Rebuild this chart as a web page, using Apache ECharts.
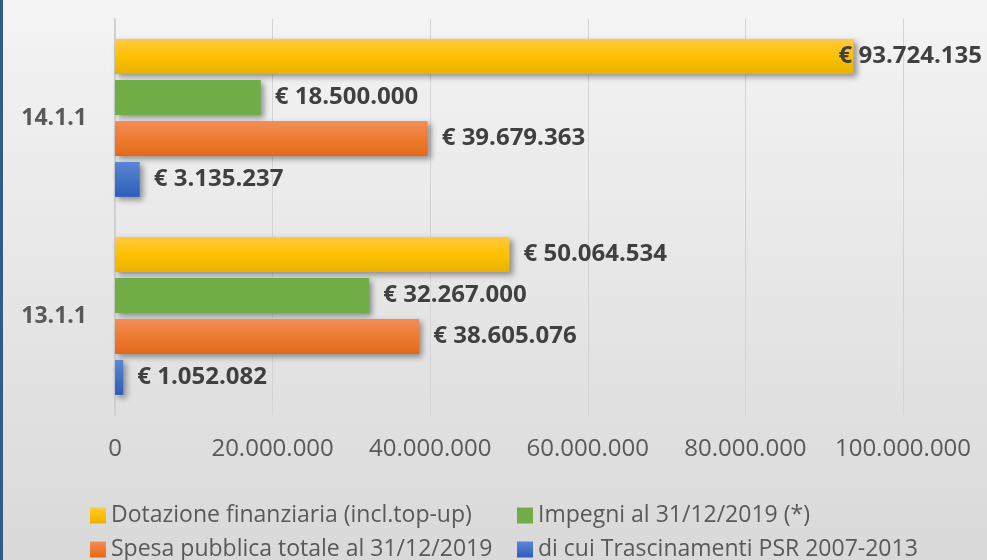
<!DOCTYPE html>
<html>
<head>
<meta charset="utf-8">
<script src="https://cdn.jsdelivr.net/npm/echarts@6/dist/echarts.min.js"></script>
<style>
    html, body { margin: 0; padding: 0; }
    .wrap { position: relative; width: 987px; height: 560px; }
    .charts { width: 987px; height: 560px; }
    .stripe { position: absolute; left: 0; top: 0; width: 3px; height: 560px; background: #325c84; }
</style>
</head>
<body>
<div class="wrap">
    <div class="charts" id="myEchart"></div>
    <div class="stripe"></div>
</div>
<script>
// categorie (dall'alto verso il basso)
var categories = ["14.1.1", "13.1.1"];
var seriesNames = [
    "Dotazione finanziaria (incl.top-up)",
    "Impegni al 31/12/2019 (*)",
    "Spesa pubblica totale al 31/12/2019",
    "di cui Trascinamenti PSR 2007-2013"
];
var dotazione = [93724135, 50064534];
var impegni = [18500000, 32267000];
var spesa = [39679363, 38605076];
var trascinamenti = [3135237, 1052082];
var xTicks = [0, 20000000, 40000000, 60000000, 80000000, 100000000];

function fmt(v) {
    return String(v).replace(/\B(?=(\d{3})+(?!\d))/g, ".");
}

function grad(c1, c2, c3) {
    return new echarts.graphic.LinearGradient(0, 0, 0, 1, [
        { offset: 0, color: c1 },
        { offset: 0.5, color: c2 },
        { offset: 1, color: c3 }
    ]);
}

var colors = [
    grad("#ffc942", "#ffc000", "#e6b200"),
    grad("#70ad47", "#70ad47", "#70ad47"),
    grad("#f38d56", "#ee7b30", "#e2691b"),
    grad("#5b86d6", "#4472c4", "#2d5cbf")
];

var barStyle = {
    shadowColor: "rgba(0,0,0,0.4)",
    shadowBlur: 6,
    shadowOffsetX: 3,
    shadowOffsetY: 3
};

var allData = [dotazione, impegni, spesa, trascinamenti];

// legenda a due colonne: una legenda per voce
var legendPos = [
    { left: 85, top: 499 },
    { left: 512, top: 499 },
    { left: 85, top: 533 },
    { left: 512, top: 533 }
];

var chart = echarts.init(document.getElementById("myEchart"));
chart.setOption({
    backgroundColor: new echarts.graphic.LinearGradient(0, 0, 0, 1, [
        { offset: 0, color: "#f4f4f4" },
        { offset: 1, color: "#d9d9d9" }
    ]),
    textStyle: { fontFamily: "Open Sans" },
    grid: {
        top: 19,
        bottom: 145,
        left: 115,
        right: 84
    },
    legend: seriesNames.map(function (name, i) {
        return {
            left: legendPos[i].left,
            top: legendPos[i].top,
            itemWidth: 16,
            itemHeight: 16,
            itemGap: 6,
            icon: "rect",
            data: [name],
            itemStyle: { shadowBlur: 0, shadowOffsetX: 0, shadowOffsetY: 0 },
            textStyle: { color: "#595959", fontSize: 23, fontFamily: "Open Sans" }
        };
    }),
    xAxis: {
        type: "value",
        min: xTicks[0],
        max: xTicks[xTicks.length - 1],
        interval: xTicks[1] - xTicks[0],
        axisLine: { show: false },
        axisTick: { show: false },
        splitLine: { show: true, lineStyle: { color: "#d4d4d4", width: 1 } },
        axisLabel: {
            margin: 22,
            color: "#595959",
            fontSize: 24,
            formatter: function (v) { return fmt(v); }
        }
    },
    yAxis: {
        type: "category",
        inverse: true,
        data: categories,
        axisTick: { show: false },
        axisLine: { show: true, lineStyle: { color: "#d0d0d0", width: 2 } },
        axisLabel: {
            margin: 28,
            color: "#595959",
            fontSize: 23,
            fontWeight: "bold"
        }
    },
    series: seriesNames.map(function (name, i) {
        return {
            name: name,
            type: "bar",
            barWidth: 35,
            barGap: "17%",
            itemStyle: Object.assign({ color: colors[i] }, barStyle),
            label: {
                show: true,
                position: "right",
                distance: 14,
                color: "#404040",
                fontSize: 24,
                fontWeight: "bold",
                formatter: function (p) { return "€ " + fmt(p.value); }
            },
            data: allData[i].map(function (v) {
                // etichetta che non entra a destra: sovrapposta alla fine della barra
                if (v > 90000000) {
                    return { value: v, label: { distance: -15 } };
                }
                return v;
            })
        };
    })
});
</script>
</body>
</html>
